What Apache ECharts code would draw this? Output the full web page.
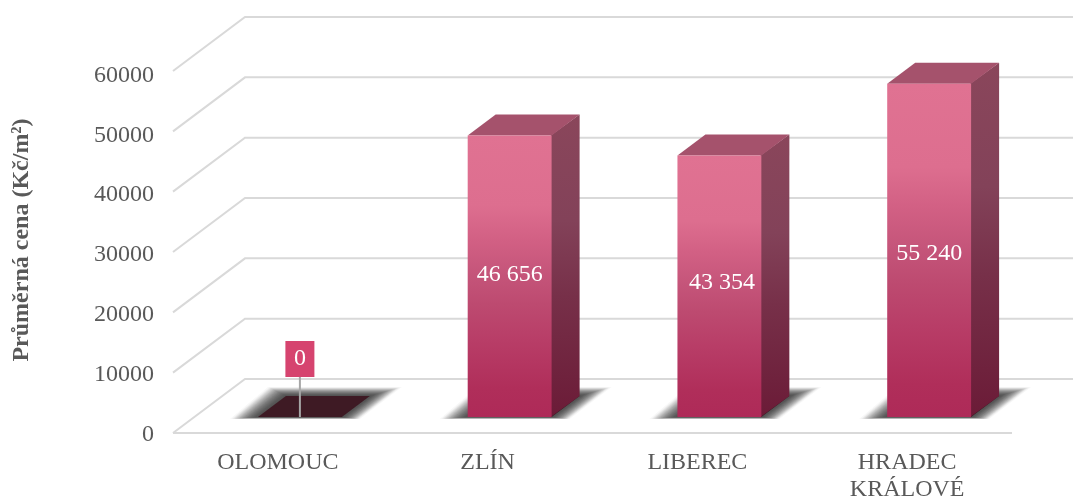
<!DOCTYPE html>
<html>
<head>
<meta charset="utf-8">
<title>Průměrná cena</title>
<script src="https://cdn.jsdelivr.net/npm/echarts@6/dist/echarts.min.js"></script>
<style>
  html, body { margin: 0; padding: 0; background: #ffffff; }
  #main { width: 1073px; height: 498px; }
</style>
</head>
<body>
<div id="main"></div>
<script>
// data
const categories = ['OLOMOUC', 'ZLÍN', 'LIBEREC', 'HRADEC\nKRÁLOVÉ'];
const prices = [0, 46656, 43354, 55240];
const priceLabels = ['0', '46 656', '43 354', '55 240'];
const yTicks = [0, 10000, 20000, 30000, 40000, 50000, 60000];

const FONT = '"Liberation Serif", serif';
const TEXT_COLOR = '#595959';

// hloubka "3D" podlahy a sloupce
const WALL_DX = 72, WALL_DY = 54;
const BAR_DX = 28, BAR_DY = 21;
// popisky nejsou v originale presne na stredu sloupce
const LABEL_NUDGE = [[0, 0], [0, 0], [2.5, -2], [0, 5]];

function renderGrid(params, api) {
  const v = api.value(1);
  const cs = params.coordSys;
  const y = api.coord([0, v])[1];
  const x0 = cs.x, x1 = cs.x + cs.width;
  const style = { stroke: '#d9d9d9', lineWidth: 2, fill: null };
  const children = [{
    type: 'polyline',
    shape: { points: [[x0, y], [x0 + WALL_DX, y - WALL_DY], [x1 + WALL_DX, y - WALL_DY]] },
    style: style
  }];
  if (v === 0) {
    children.push({ type: 'line', shape: { x1: x0, y1: y, x2: x1, y2: y }, style: style });
  }
  return { type: 'group', children: children };
}

function renderBar(params, api) {
  const i = api.value(0);
  const val = api.value(1);
  const cx = api.coord([i, 0])[0];
  const band = api.size([1, 0])[0];
  const w = band * 0.4;
  const l = cx - band * 0.095;
  const r = l + w;
  const base = api.coord([i, 0])[1] - 16;
  const top = base - (api.coord([i, 0])[1] - api.coord([i, val])[1]);
  const children = [];

  // stin na podlaze - vrstvy misto rozmazani, spodni hrana zustava ostra
  const layers = 40;
  for (let k = layers; k >= 0; k--) {
    const u = k / layers;
    const t = 0.5 * u + 0.5 * (0.5 - Math.sin(Math.asin(1 - 2 * u) / 3));  // mekky okraj
    children.push({
      type: 'polygon',
      shape: { points: [
        [l - 28 * t, base + 2 * t],
        [l + BAR_DX - 18 * t, base - BAR_DY - 9 * t],
        [r + BAR_DX + 32 * t, base - BAR_DY - 9 * t],
        [r + 18 * t, base + 2 * t]
      ] },
      style: { fill: 'rgba(40,40,40,0.032)' }
    });
  }

  // dno
  children.push({
    type: 'polygon',
    shape: { points: [[l, base], [l + BAR_DX, base - BAR_DY], [r + BAR_DX, base - BAR_DY], [r, base]] },
    style: { fill: '#3e1a24' }
  });

  if (val > 0) {
    children.push({
      type: 'polygon',
      shape: { points: [[r - 1, top], [r + BAR_DX, top - BAR_DY], [r + BAR_DX, base - BAR_DY], [r - 1, base]] },
      style: { fill: new echarts.graphic.LinearGradient(0, 0, 0, 1, [
        { offset: 0, color: '#8a465b' }, { offset: 0.35, color: '#834259' },
        { offset: 0.6, color: '#773049' }, { offset: 1, color: '#6b1b37' }
      ]) }
    });
    children.push({
      type: 'polygon',
      shape: { points: [[l, top], [l + BAR_DX, top - BAR_DY], [r + BAR_DX, top - BAR_DY], [r, top]] },
      style: { fill: '#a5526c' }
    });
    children.push({
      type: 'rect',
      shape: { x: l, y: top, width: w, height: base - top },
      style: { fill: new echarts.graphic.LinearGradient(0, 0, 0, 1, [
        { offset: 0, color: '#e07292' }, { offset: 0.25, color: '#dd6e8f' },
        { offset: 0.37, color: '#d26084' }, { offset: 0.49, color: '#c5557a' },
        { offset: 0.6, color: '#bd4a70' }, { offset: 0.73, color: '#b83d67' },
        { offset: 0.9, color: '#b02e5a' }, { offset: 1, color: '#ae2a58' }
      ]) }
    });
    children.push({
      type: 'text',
      style: {
        x: l + w / 2 + LABEL_NUDGE[i][0], y: (top + base) / 2 - 2 + LABEL_NUDGE[i][1],
        text: priceLabels[i], fill: '#ffffff', font: '24px ' + FONT,
        align: 'center', verticalAlign: 'middle'
      }
    });
  } else {
    // nulova hodnota - popisek na vodici care
    const mid = l + w / 2;
    children.push({
      type: 'line',
      shape: { x1: mid, y1: base, x2: mid, y2: base - 40 },
      style: { stroke: '#a6a6a6', lineWidth: 2 }
    });
    children.push({
      type: 'rect',
      shape: { x: mid - 14.5, y: base - 76, width: 29, height: 36 },
      style: { fill: '#d6446f' }
    });
    children.push({
      type: 'text',
      style: {
        x: mid, y: base - 58,
        text: priceLabels[i], fill: '#ffffff', font: '24px ' + FONT,
        align: 'center', verticalAlign: 'middle'
      }
    });
  }
  return { type: 'group', children: children };
}

const myChart = echarts.init(document.getElementById('main'), null, { renderer: 'canvas' });

const option = {
  animation: false,
  backgroundColor: '#ffffff',
  // druhy grid jen kvuli popiskum osy y, v originale maji trochu mensi rozestup nez mrizka
  grid: [
    { left: 173, right: 61, top: 71, bottom: 65, outerBoundsMode: 'none' },
    { left: 173, right: 61, top: 75.5, bottom: 63.5, outerBoundsMode: 'none' }
  ],
  xAxis: [
    {
      type: 'category',
      data: categories,
      axisLine: { show: false },
      axisTick: { show: false },
      axisLabel: {
        color: TEXT_COLOR,
        fontFamily: FONT,
        fontSize: 24,
        lineHeight: 27,
        margin: 16,
        interval: 0
      }
    },
    { type: 'category', gridIndex: 1, data: categories, show: false }
  ],
  yAxis: [
    {
      type: 'value',
      min: 0,
      max: 60000,
      interval: 10000,
      name: 'Průměrná cena (Kč/m²)',
      nameLocation: 'middle',
      nameRotate: 90,
      nameGap: 139,
      nameTextStyle: {
        color: TEXT_COLOR,
        fontFamily: FONT,
        fontSize: 24,
        fontWeight: 'bold',
        padding: [0, 0, 0, 24]
      },
      axisLine: { show: false },
      axisTick: { show: false },
      splitLine: { show: false },
      axisLabel: { show: false }
    },
    {
      type: 'value',
      gridIndex: 1,
      min: 0,
      max: 60000,
      interval: 10000,
      axisLine: { show: false },
      axisTick: { show: false },
      splitLine: { show: false },
      axisLabel: {
        color: TEXT_COLOR,
        fontFamily: FONT,
        fontSize: 24,
        margin: 19,
        formatter: function (v) { return String(v); }
      }
    }
  ],
  series: [
    {
      type: 'custom',
      renderItem: renderGrid,
      silent: true,
      z: 1,
      encode: { y: 1 },
      data: yTicks.map((t) => [0, t])
    },
    {
      type: 'custom',
      renderItem: renderBar,
      silent: true,
      z: 2,
      encode: { x: 0, y: 1 },
      data: prices.map((p, i) => [i, p])
    }
  ]
};

myChart.setOption(option);
</script>
</body>
</html>
